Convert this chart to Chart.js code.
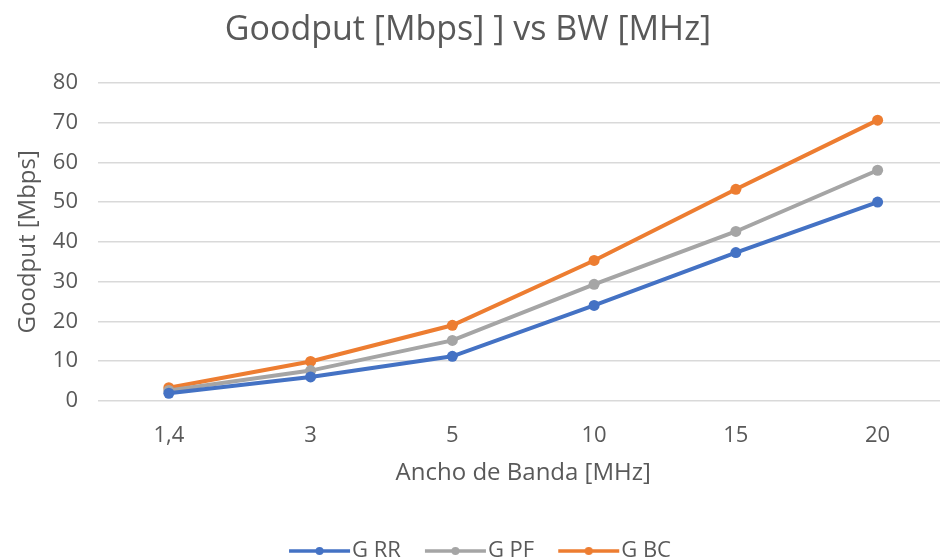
<!DOCTYPE html>
<html>
<head>
<meta charset="utf-8">
<script src="https://cdn.jsdelivr.net/npm/chart.js@4"></script>
<style>
    html, body { margin: 0; padding: 0; background: #fff; overflow: hidden; width: 940px; height: 560px; }
    #wrap { width: 954px; height: 560px; }
</style>
</head>
<body>
<div id="wrap"><canvas id="chart"></canvas></div>
<script>
const bandwidths = ['1,4', '3', '5', '10', '15', '20'];
const goodputRR = [1.9, 6.0, 11.2, 24.0, 37.3, 50.0];
const goodputPF = [2.6, 7.6, 15.2, 29.3, 42.6, 58.0];
const goodputBC = [3.3, 9.9, 19.0, 35.3, 53.2, 70.6];
const seriesNames = ['G RR', 'G PF', 'G BC'];

const colors = {
    rr: '#4472C4',
    pf: '#A5A5A5',
    bc: '#ED7D31',
    text: '#595959',
    grid: '#D9D9D9'
};

const FONT = "'Open Sans', 'Noto Sans', sans-serif";

// line-with-dot marker for the legend, like Excel draws it.
// the image is wider than the legend box so the line sits a bit to the right
function legendMarker(color) {
    const c = document.createElement('canvas');
    c.width = 100;
    c.height = 12;
    const ctx = c.getContext('2d');
    ctx.strokeStyle = color;
    ctx.lineWidth = 3.5;
    ctx.beginPath();
    ctx.moveTo(36, 6);
    ctx.lineTo(97, 6);
    ctx.stroke();
    ctx.fillStyle = color;
    ctx.beginPath();
    ctx.arc(66.5, 6, 4, 0, Math.PI * 2);
    ctx.fill();
    return c;
}

function makeSeries(label, data, color) {
    return {
        label,
        data,
        borderColor: color,
        backgroundColor: color,
        borderWidth: 4,
        pointRadius: 5.5,
        pointHoverRadius: 5.5,
        pointBorderWidth: 0,
        tension: 0,
        fill: false,
        legendMarker: legendMarker(color)
    };
}

new Chart(document.getElementById('chart'), {
    type: 'line',
    data: {
        labels: bandwidths,
        datasets: [
            makeSeries(seriesNames[0], goodputRR, colors.rr),
            makeSeries(seriesNames[1], goodputPF, colors.pf),
            makeSeries(seriesNames[2], goodputBC, colors.bc)
        ]
    },
    options: {
        responsive: true,
        maintainAspectRatio: false,
        animation: false,
        layout: { padding: { left: -18, right: 0, top: 6, bottom: -12 } },
        plugins: {
            title: {
                display: true,
                text: 'Goodput [Mbps] ] vs BW [MHz]',
                color: colors.text,
                font: { family: FONT, size: 34, weight: 'normal' },
                padding: { top: 4, bottom: 32 }
            },
            legend: {
                position: 'bottom',
                labels: {
                    color: colors.text,
                    font: { family: FONT, size: 22 },
                    usePointStyle: true,
                    pointStyleWidth: 76,
                    padding: 0,
                    generateLabels(chart) {
                        const items = Chart.defaults.plugins.legend.labels.generateLabels(chart);
                        items.forEach(item => {
                            item.pointStyle = chart.data.datasets[item.datasetIndex].legendMarker;
                        });
                        return items;
                    }
                }
            },
            tooltip: { enabled: false }
        },
        scales: {
            x: {
                offset: true,
                grid: { display: false },
                border: { display: false },
                ticks: { color: colors.text, font: { family: FONT, size: 22 }, padding: 14 },
                title: {
                    display: true,
                    text: 'Ancho de Banda [MHz]',
                    color: colors.text,
                    font: { family: FONT, size: 24 },
                    padding: { top: -4, bottom: 52 }
                }
            },
            y: {
                min: 0,
                max: 80,
                ticks: { stepSize: 10, color: colors.text, font: { family: FONT, size: 22 }, padding: 20 },
                grid: { color: colors.grid, lineWidth: 1.5, drawTicks: false },
                border: { display: false },
                title: {
                    display: true,
                    text: 'Goodput [Mbps]',
                    color: colors.text,
                    font: { family: FONT, size: 24 },
                    padding: { top: 32, bottom: -10 }
                }
            }
        }
    }
});
</script>
</body>
</html>
